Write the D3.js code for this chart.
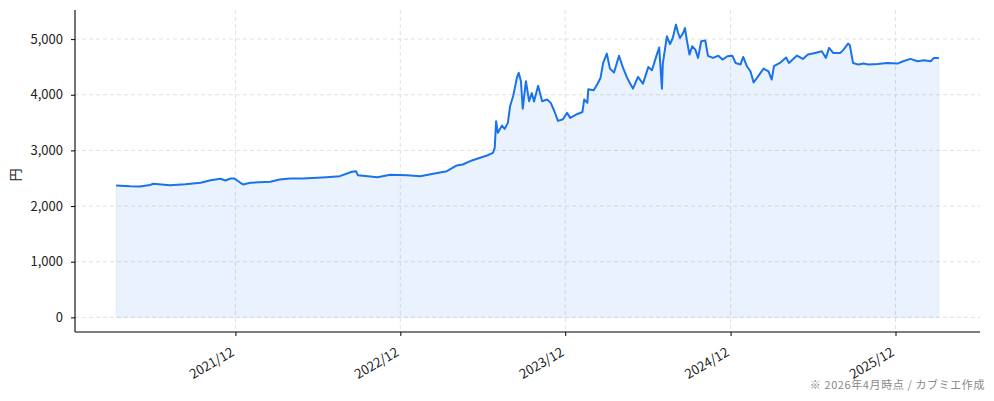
<!DOCTYPE html>
<html lang="ja">
<head>
<meta charset="UTF-8">
<title>株価推移</title>
<script src="https://cdn.jsdelivr.net/npm/d3@7"></script>
<style>
	body { margin: 0; background: #fff; }
	text { font-family: "Noto Sans CJK JP", "Noto Sans", sans-serif; }
</style>
</head>
<body>
<script>

	// 日付と終値 (円) - チャートから読み取り
	var dates = [
		"2021-03-12","2021-04-12","2021-05-04","2021-05-26","2021-06-02","2021-07-09","2021-08-12","2021-09-15",
		"2021-10-07","2021-10-29","2021-11-09","2021-11-20","2021-11-29","2021-12-12","2021-12-18","2022-01-03",
		"2022-02-16","2022-03-09","2022-04-01","2022-04-29","2022-06-21","2022-07-20","2022-08-16","2022-08-25",
		"2022-08-29","2022-10-11","2022-11-09","2022-12-16","2023-01-14","2023-02-12","2023-03-14","2023-04-05",
		"2023-04-18","2023-05-10","2023-06-11","2023-06-24","2023-06-28","2023-07-01","2023-07-05","2023-07-14",
		"2023-07-20","2023-07-27","2023-08-01","2023-08-08","2023-08-16","2023-08-20","2023-08-25","2023-08-29",
		"2023-09-05","2023-09-12","2023-09-18","2023-09-23","2023-10-02","2023-10-11","2023-10-22","2023-10-30",
		"2023-11-07","2023-11-15","2023-11-26","2023-12-05","2023-12-12","2023-12-27","2024-01-08","2024-01-12",
		"2024-01-19","2024-01-21","2024-02-02","2024-02-10","2024-02-17","2024-02-23","2024-03-02","2024-03-09",
		"2024-03-18","2024-03-29","2024-04-07","2024-04-16","2024-04-22","2024-04-29","2024-05-10","2024-05-21",
		"2024-06-02","2024-06-10","2024-06-21","2024-06-26","2024-07-02","2024-07-04","2024-07-13","2024-07-20",
		"2024-07-26","2024-08-02","2024-08-07","2024-08-11","2024-08-18","2024-08-22","2024-08-26","2024-09-01",
		"2024-09-07","2024-09-14","2024-09-20","2024-09-27","2024-10-06","2024-10-12","2024-10-23","2024-11-04",
		"2024-11-13","2024-11-24","2024-12-05","2024-12-12","2024-12-23","2024-12-29","2025-01-06","2025-01-14",
		"2025-01-21","2025-01-30","2025-02-12","2025-02-23","2025-03-02","2025-03-07","2025-03-20","2025-04-03",
		"2025-04-09","2025-04-27","2025-05-10","2025-05-21","2025-06-06","2025-06-21","2025-06-30","2025-07-07",
		"2025-07-16","2025-08-01","2025-08-08","2025-08-18","2025-08-22","2025-08-29","2025-09-10","2025-09-21",
		"2025-10-02","2025-10-22","2025-11-13","2025-12-05","2025-12-18","2026-01-03","2026-01-19","2026-02-02",
		"2026-02-17","2026-02-24","2026-03-07"
	];
	var prices = [
		2370,2357,2352,2379,2400,2375,2393,2418,
		2465,2490,2460,2495,2495,2418,2388,2418,
		2436,2478,2495,2495,2519,2537,2616,2627,
		2555,2519,2562,2555,2537,2580,2627,2729,
		2747,2824,2908,2957,3047,3524,3315,3447,
		3387,3495,3794,3986,4303,4393,4243,3750,
		4243,3884,4030,3880,4160,3884,3914,3854,
		3704,3530,3560,3674,3585,3650,3690,3914,
		3854,4100,4080,4190,4300,4572,4740,4470,
		4400,4700,4483,4303,4213,4110,4320,4200,
		4500,4440,4730,4850,4110,4560,5050,4910,
		5020,5260,5110,5021,5110,5200,4991,4722,
		4871,4811,4662,4962,4975,4700,4662,4700,
		4632,4692,4700,4572,4545,4680,4513,4422,
		4220,4320,4470,4420,4273,4513,4572,4670,
		4572,4704,4644,4722,4752,4782,4662,4842,
		4752,4752,4812,4919,4890,4572,4542,4560,
		4542,4554,4572,4560,4602,4644,4602,4620,
		4602,4662,4662
	];
	var yTicks = [0, 1000, 2000, 3000, 4000, 5000];
	var xTicks = ["2021-12-01", "2022-12-01", "2023-12-01", "2024-12-01", "2025-12-01"];

	var parse = d3.timeParse("%Y-%m-%d");
	var data = dates.map(function (d, i) { return { date: parse(d), value: prices[i] }; });

	var width = 994, height = 401;
	var pLeft = 75, pRight = 980, pTop = 10, pBottom = 332;

	var svg = d3.select("body").append("svg").attr("width", width).attr("height", height);

	// matplotlib風に5%の余白
	var ext = d3.extent(data, function (d) { return d.date; });
	var span = ext[1] - ext[0];
	var x = d3.scaleTime()
		.domain([new Date(+ext[0] - span * 0.05), new Date(+ext[1] + span * 0.05)])
		.range([pLeft, pRight]);
	var yMax = d3.max(prices);
	var y = d3.scaleLinear()
		.domain([-yMax * 0.05, yMax * 1.05])
		.range([pBottom, pTop]);

	// grid
	svg.append("g").selectAll("line").data(yTicks).enter().append("line")
		.attr("x1", pLeft).attr("x2", pRight)
		.attr("y1", function (d) { return y(d); }).attr("y2", function (d) { return y(d); })
		.attr("stroke", "#d9d9d9").attr("stroke-dasharray", "4,3").attr("stroke-width", 0.8);
	svg.append("g").selectAll("line").data(xTicks).enter().append("line")
		.attr("x1", function (d) { return x(parse(d)); }).attr("x2", function (d) { return x(parse(d)); })
		.attr("y1", pTop).attr("y2", pBottom)
		.attr("stroke", "#d9d9d9").attr("stroke-dasharray", "4,3").attr("stroke-width", 0.8);

	// area + line
	var area = d3.area()
		.x(function (d) { return x(d.date); })
		.y0(y(0))
		.y1(function (d) { return y(d.value); });
	svg.append("path").datum(data).attr("d", area)
		.attr("fill", "#1a73e8").attr("fill-opacity", 0.09)
		.attr("stroke", "#1a73e8").attr("stroke-opacity", 0.08);

	var line = d3.line()
		.x(function (d) { return x(d.date); })
		.y(function (d) { return y(d.value); });
	svg.append("path").datum(data).attr("d", line)
		.attr("fill", "none").attr("stroke", "#1a73e8").attr("stroke-width", 2)
		.attr("stroke-linejoin", "round");

	// axes
	var yAxis = svg.append("g").attr("transform", "translate(" + pLeft + ",0)")
		.call(d3.axisLeft(y).tickValues(yTicks).tickSize(4).tickPadding(8).tickFormat(d3.format(",")));
	var xAxis = svg.append("g").attr("transform", "translate(0," + pBottom + ")")
		.call(d3.axisBottom(x).tickValues(xTicks.map(parse)).tickSize(4).tickFormat(d3.timeFormat("%Y/%m")));

	[yAxis, xAxis].forEach(function (a) {
		a.select(".domain").attr("stroke", "#000").attr("stroke-width", 1.1);
		a.selectAll(".tick line").attr("stroke", "#000");
		a.selectAll("text").attr("font-size", 13).attr("fill", "#222")
			.attr("font-family", "'Noto Sans CJK JP', 'Noto Sans', sans-serif");
	});
	yAxis.select(".domain").attr("d", "M0," + pBottom + "V" + pTop);
	xAxis.select(".domain").attr("d", "M" + pLeft + ",0H" + pRight);

	xAxis.selectAll(".tick text")
		.attr("text-anchor", "end")
		.attr("y", 0).attr("dy", 0)
		.attr("transform", "translate(-1,23) rotate(-30)");

	svg.append("text")
		.attr("transform", "translate(20,175) rotate(-90)")
		.attr("text-anchor", "middle")
		.attr("font-size", 13).attr("fill", "#222")
		.text("円");

	svg.append("text")
		.attr("x", 985).attr("y", 389)
		.attr("text-anchor", "end")
		.attr("font-size", 11).attr("fill", "#888")
		.attr("letter-spacing", 0.6)
		.text("※ 2026年4月時点 / カブミエ作成");

</script>
</body>
</html>
